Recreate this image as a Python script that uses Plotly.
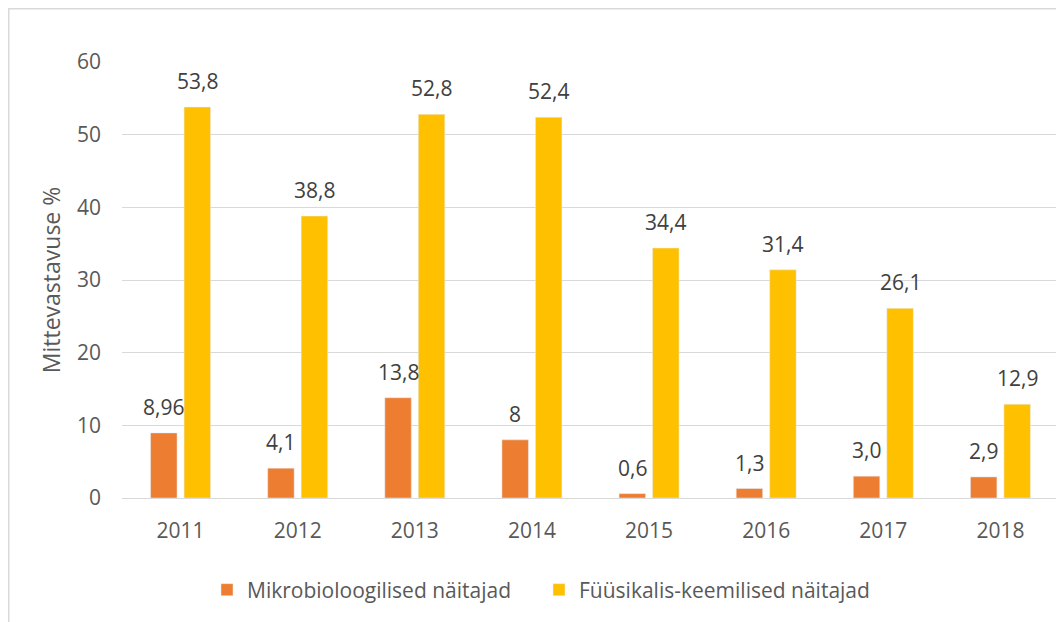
import plotly.graph_objects as go

years = ["2011", "2012", "2013", "2014", "2015", "2016", "2017", "2018"]
mikro = [8.96, 4.1, 13.8, 8.0, 0.6, 1.3, 3.0, 2.9]
mikro_labels = ["8,96", "4,1", "13,8", "8", "0,6", "1,3", "3,0", "2,9"]
fyys = [53.8, 38.8, 52.8, 52.4, 34.4, 31.4, 26.1, 12.9]
fyys_labels = ["53,8", "38,8", "52,8", "52,4", "34,4", "31,4", "26,1", "12,9"]
y_ticks = [0, 10, 20, 30, 40, 50, 60]

name_mikro = "Mikrobioloogilised näitajad"
name_fyys = "Füüsikalis-keemilised näitajad"
y_title = "Mittevastavuse %"

OFF = 8  # page body margin
W, H = 1064 - OFF, 622 - OFF
ML, MR, MT, MB = 122 - OFF, 5, 62 - OFF, 124
FONT = "Open Sans"
ORANGE = "#ED7D31"
YELLOW = "#FFC000"
GRID = "#D9D9D9"
TXT = "#595959"
LBL = "#404040"
FS = 21
FS_TITLE = 23

BARGAP = 0.428
BARGROUPGAP = 0.21

fig = go.Figure()
fig.add_trace(go.Bar(x=years, y=mikro, name=name_mikro, marker_color=ORANGE))
fig.add_trace(go.Bar(x=years, y=fyys, name=name_fyys, marker_color=YELLOW))

plot_w = W - ML - MR
plot_h = H - MT - MB
cat_w = plot_w / len(years)
slot = (1 - BARGAP) * cat_w / 2
shift = slot / 2

annotations = []
for series, labels, sgn in ((mikro, mikro_labels, -1), (fyys, fyys_labels, 1)):
    for i, (v, t) in enumerate(zip(series, labels)):
        annotations.append(dict(
            x=i, y=v, xref="x", yref="y", text=t, showarrow=False,
            xanchor="center", yanchor="bottom", xshift=sgn * shift, yshift=10,
            font=dict(family=FONT, size=FS, color=LBL),
        ))

def px_to_paper_x(px):  # page pixel -> paper
    return (px - OFF - ML) / plot_w
def px_to_paper_y(py):
    return (H - MB - (py - OFF)) / plot_h

fig.update_layout(
    width=W, height=H,
    margin=dict(l=ML, r=MR, t=MT, b=MB, pad=0),
    paper_bgcolor="white", plot_bgcolor="white",
    barmode="group", bargap=BARGAP, bargroupgap=BARGROUPGAP,
    font=dict(family=FONT, size=FS, color=TXT),
    showlegend=True,
    legend=dict(
        orientation="h", x=px_to_paper_x(207), xanchor="left",
        y=px_to_paper_y(590), yanchor="middle",
        font=dict(family=FONT, size=FS, color=TXT),
        itemwidth=30, traceorder="normal",
        entrywidth=287, entrywidthmode="pixels",
    ),
    xaxis=dict(
        type="category", range=[-0.5, len(years) - 0.5],
        showgrid=False, zeroline=False, showline=False,
        ticks="", ticklabelstandoff=18,
        tickfont=dict(family=FONT, size=FS, color=TXT),
    ),
    yaxis=dict(
        range=[0, 60], tickvals=y_ticks, showgrid=True, gridcolor=GRID, gridwidth=1,
        zeroline=True, zerolinecolor=GRID, zerolinewidth=1, showline=False,
        ticks="", ticklabelstandoff=20,
        tickfont=dict(family=FONT, size=FS, color=TXT),
        title=dict(text=y_title, standoff=9, font=dict(family=FONT, size=FS_TITLE, color=TXT)),
    ),
    annotations=annotations,
    shapes=[dict(
        type="rect", xref="paper", yref="paper",
        x0=px_to_paper_x(8.75), x1=px_to_paper_x(1064 + 20),
        y0=px_to_paper_y(622 + 20), y1=px_to_paper_y(8.75),
        line=dict(color=GRID, width=1.5), fillcolor="rgba(0,0,0,0)", layer="below",
    )],
)

fig.write_html("out.html")
